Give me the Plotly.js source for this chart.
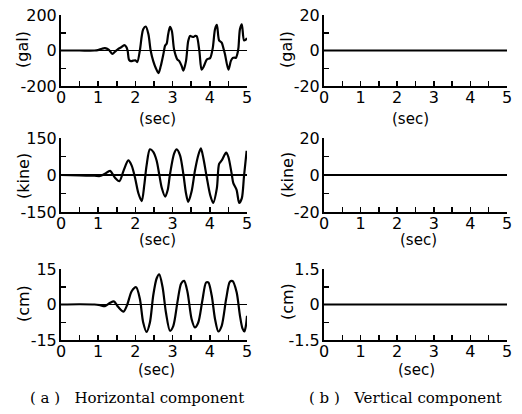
<!DOCTYPE html>
<html>
<head>
<meta charset="utf-8">
<script src="https://cdn.plot.ly/plotly-3.0.1.min.js"></script>
<style>html,body{margin:0;padding:0;background:#fff;}#chart{width:522px;height:414px;}</style>
</head>
<body>
<div id="chart"></div>
<script>
// ---- Data ----
// Horizontal acceleration (gal)
const accT = [0, 0.5, 0.9, 0.99, 1.1, 1.18, 1.28, 1.38, 1.46, 1.54, 1.62, 1.70, 1.75, 1.79, 1.83, 1.88, 1.94, 2.00, 2.05, 2.12, 2.17, 2.21, 2.28, 2.35, 2.41, 2.48, 2.55, 2.62, 2.68, 2.75, 2.80, 2.84, 2.88, 2.93, 2.98, 3.04, 3.13, 3.18, 3.24, 3.29, 3.36, 3.42, 3.47, 3.52, 3.56, 3.61, 3.65, 3.72, 3.78, 3.84, 3.92, 4.01, 4.08, 4.14, 4.19, 4.25, 4.32, 4.37, 4.41, 4.50, 4.57, 4.62, 4.66, 4.70, 4.74, 4.77, 4.81, 4.86, 4.92, 4.96, 5.0];
const accV = [0, 0, 0, 2, 10, 13, 5, -19, -5, 9, 18, 30, 22, 0, -53, -60, -57, -55, -65, 0, 80, 120, 135, 91, 0, -60, -100, -127, -89, -23, 28, 38, 90, 133, 110, 6, -51, -60, -85, -114, -60, 53, 82, 78, 76, 82, 80, -4, -108, -89, -51, -42, 15, 120, 144, 57, 44, 10, -23, -108, -57, -42, -40, -42, -20, 15, 120, 148, 57, 60, 70];
// Horizontal velocity (kine)
const velT = [0, 0.5, 0.9, 1.05, 1.18, 1.32, 1.45, 1.57, 1.68, 1.81, 1.90, 1.99, 2.08, 2.17, 2.24, 2.30, 2.39, 2.48, 2.57, 2.64, 2.71, 2.80, 2.87, 2.93, 3.04, 3.11, 3.20, 3.29, 3.36, 3.42, 3.51, 3.60, 3.69, 3.76, 3.83, 3.92, 4.01, 4.09, 4.19, 4.25, 4.32, 4.44, 4.50, 4.59, 4.63, 4.72, 4.79, 4.86, 4.92, 4.99];
const velV = [0, -2, -3, -4, 5, 17, -11, -25, 17, 59, 38, -11, -74, -106, -39, 38, 104, 94, 59, 3, -53, -88, -60, 3, 87, 104, 80, 3, -74, -109, -67, 17, 80, 108, 66, -11, -81, -113, -53, 45, 59, 91, 73, 3, -32, -60, -113, -95, -4, 98];
// Horizontal displacement (cm)
const dispT = [0, 0.5, 0.9, 1.05, 1.18, 1.32, 1.42, 1.54, 1.68, 1.78, 1.90, 2.02, 2.12, 2.21, 2.30, 2.39, 2.48, 2.57, 2.64, 2.73, 2.82, 2.93, 3.02, 3.13, 3.23, 3.31, 3.40, 3.51, 3.60, 3.69, 3.80, 3.90, 3.96, 4.05, 4.14, 4.23, 4.32, 4.44, 4.54, 4.61, 4.72, 4.81, 4.88, 4.93, 4.97, 5.0];
const dispV = [0, 0.1, 0, -0.3, -0.7, 0.7, 1.3, -1.1, -3.0, -0.1, 5.6, 7.3, 2.4, -7.6, -11.6, -7.6, 3.9, 11.0, 12.7, 7.4, -3.3, -11.1, -9.0, 1.0, 8.9, 10.0, 5.3, -6.1, -9.7, -7.6, 1.7, 9.3, 9.3, 3.9, -6.1, -11.4, -9.0, 2.4, 9.6, 9.9, 5.3, -4.7, -10.2, -11.4, -9.0, -4.8];
// Vertical components (essentially zero)
const vertT = [0, 1, 2, 3, 4, 5];
const vertAcc = [0, 0, 0, 0, 0, 0];
const vertVel = [0, 0, 0, 0, 0, 0];
const vertDisp = [0, 0, 0, 0, 0, 0];

// Tick labels
const xTickVals = [0, 0.5, 1, 1.5, 2, 2.5, 3, 3.5, 4, 4.5, 5];
const xTickText = ['0', '', '1', '', '2', '', '3', '', '4', '', '5'];
const units = ['(gal)', '(kine)', '(cm)'];
const leftRanges = [200, 150, 15];
const rightRanges = [20, 20, 1.5];
const leftLabels = [['-200', '0', '200'], ['-150', '0', '150'], ['-15', '0', '15']];
const rightLabels = [['-20', '0', '20'], ['-20', '0', '20'], ['-1.5', '0', '1.5']];
const captions = ['( a )   Horizontal component', '( b )   Vertical component'];

// ---- Layout ----
const W = 522, H = 414;
const colPx = [[61, 247], [324, 507]];
const rowPx = [[15, 86], [138, 212], [269, 340]];
const tickFont = {family: 'DejaVu Sans', size: 16, color: '#000'};

const series = [
  [accT, accV], [velT, velV], [dispT, dispV],
  [vertT, vertAcc], [vertT, vertVel], [vertT, vertDisp]
];

const data = [];
const layout = {
  width: W, height: H,
  margin: {l: 0, r: 0, t: 0, b: 0},
  paper_bgcolor: '#fff', plot_bgcolor: '#fff',
  showlegend: false,
  annotations: []
};

function xAxisDef(col, row) {
  return {
    domain: [colPx[col][0] / W, colPx[col][1] / W],
    range: [0, 5],
    showline: true, linecolor: '#000', linewidth: 2,
    ticks: 'inside', ticklen: 5, tickwidth: 1.5, tickcolor: '#000',
    tickvals: xTickVals, ticktext: xTickText,
    tickfont: tickFont, ticklabelstandoff: -4,
    showgrid: false, zeroline: false, fixedrange: true
  };
}
function yAxisDef(col, row) {
  const r = col === 0 ? leftRanges[row] : rightRanges[row];
  const lab = col === 0 ? leftLabels[row] : rightLabels[row];
  return {
    domain: [1 - rowPx[row][1] / H, 1 - rowPx[row][0] / H],
    range: [-r, r],
    showline: true, linecolor: '#000', linewidth: 2,
    ticks: 'inside', ticklen: 5, tickwidth: 1.5, tickcolor: '#000',
    tickvals: [-r, -r / 2, 0, r / 2, r],
    ticktext: [lab[0], '', lab[1], '', lab[2]],
    tickfont: tickFont, ticklabelstandoff: -1,
    showgrid: false, zeroline: true, zerolinecolor: '#000', zerolinewidth: 1.5,
    fixedrange: true
  };
}

const yTitlePx = [[23, 287], [[50, 176, 304], [50, 175, 302]]];
const secPx = [[157, 119], [157, 240], [156, 370]];
const secPxR = [[410, 119], [418, 240], [416, 370]];

let idx = 0;
for (let col = 0; col < 2; col++) {
  for (let row = 0; row < 3; row++) {
    idx++;
    const sfx = idx === 1 ? '' : String(idx);
    const s = series[idx - 1];
    data.push({
      x: s[0], y: s[1], type: 'scatter', mode: 'lines',
      line: {color: '#000', width: 2.2, shape: 'spline', smoothing: 0.8},
      xaxis: 'x' + sfx, yaxis: 'y' + sfx, hoverinfo: 'skip'
    });
    const xa = xAxisDef(col, row); xa.anchor = 'y' + sfx;
    const ya = yAxisDef(col, row); ya.anchor = 'x' + sfx;
    layout['xaxis' + sfx] = xa;
    layout['yaxis' + sfx] = ya;
    // unit label (y title)
    layout.annotations.push({
      text: units[row], xref: 'paper', yref: 'paper',
      x: yTitlePx[0][col] / W, y: 1 - yTitlePx[1][col][row] / H,
      xanchor: 'center', yanchor: 'middle', textangle: -90, showarrow: false,
      font: {family: 'DejaVu Sans', size: 16, color: '#000'}
    });
    // (sec) label
    const sp = col === 0 ? secPx[row] : secPxR[row];
    layout.annotations.push({
      text: '(sec)', xref: 'paper', yref: 'paper',
      x: sp[0] / W, y: 1 - sp[1] / H,
      xanchor: 'center', yanchor: 'middle', showarrow: false,
      font: {family: 'DejaVu Sans', size: 15, color: '#000'}
    });
  }
}
// captions
const capX = [137, 405];
captions.forEach((c, i) => {
  layout.annotations.push({
    text: c, xref: 'paper', yref: 'paper',
    x: capX[i] / W, y: 1 - 398 / H,
    xanchor: 'center', yanchor: 'middle', showarrow: false,
    font: {family: 'DejaVu Serif', size: 15, color: '#000'}
  });
});

Plotly.newPlot('chart', data, layout, {staticPlot: true, displayModeBar: false});
</script>
</body>
</html>
